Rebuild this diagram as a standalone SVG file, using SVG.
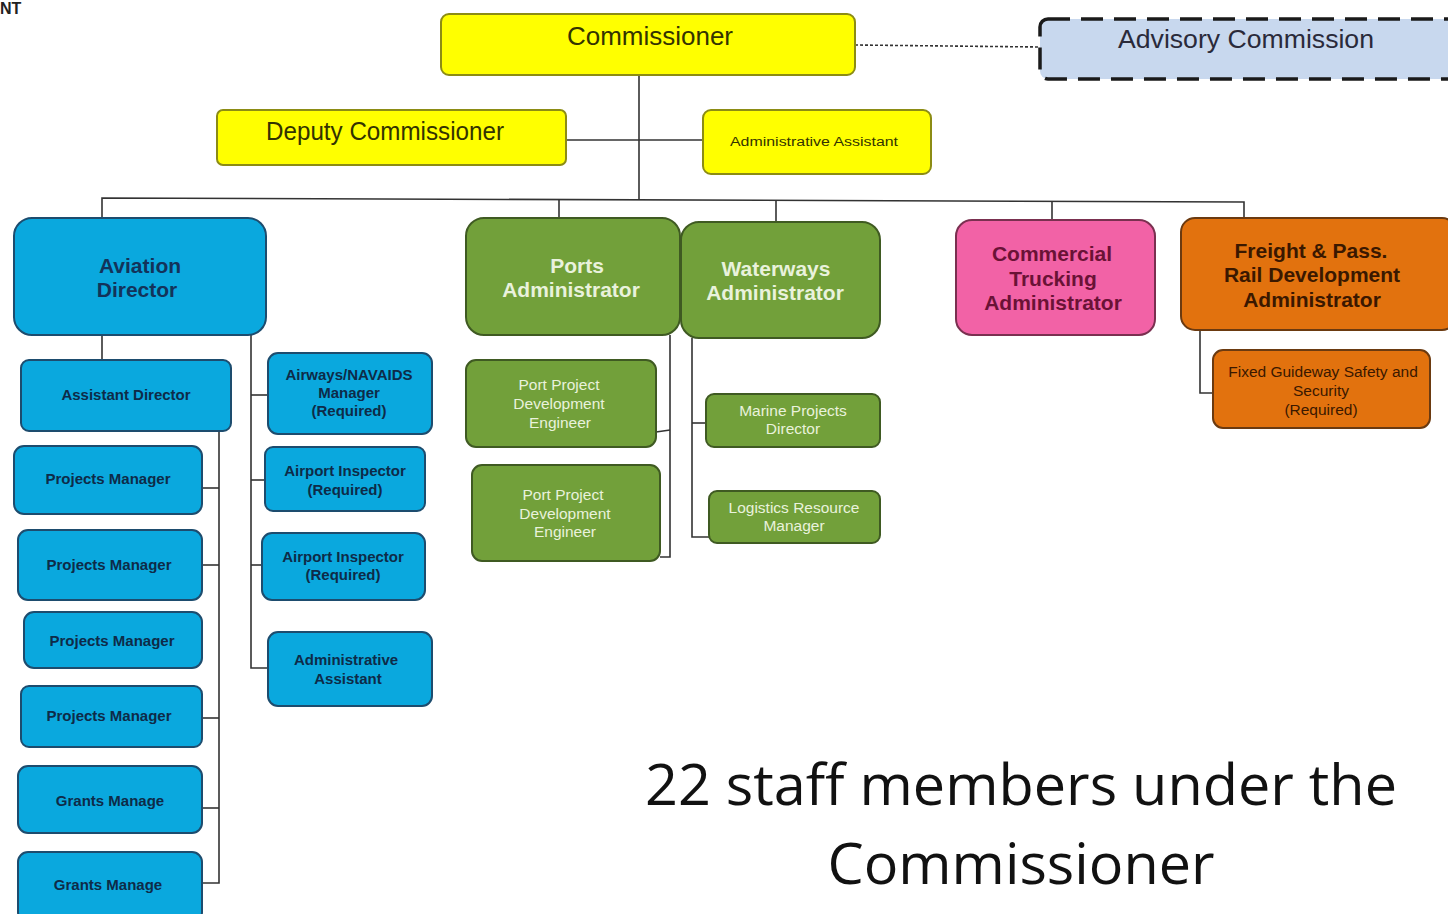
<svg xmlns="http://www.w3.org/2000/svg" width="1448" height="914" viewBox="0 0 1448 914">
<style>
.ye{fill:#ffff00;stroke:#8c8c14;stroke-width:2}
.bl{fill:#0aa8de;stroke:#1d4c6e;stroke-width:2}
.gr{fill:#72a03a;stroke:#3f5a22;stroke-width:2}
.pk{fill:#f262a6;stroke:#7a3050;stroke-width:2}
.or{fill:#e2720e;stroke:#6b3a10;stroke-width:2}
.adv{fill:#c8d8ee;stroke:#1a1a1a;stroke-width:3.5;stroke-dasharray:22 11}
text{font-family:"Liberation Sans",Arial,sans-serif;text-anchor:middle;dominant-baseline:central}
.ty{fill:#333300;font-size:25px}
.tsy{fill:#333300;font-size:12.5px}
.tb{fill:#13335a;font-size:21px;font-weight:bold}
.tsb{fill:#0e2b48;font-size:15px;font-weight:bold}
.tg{fill:#e9f2dc;font-size:21px;font-weight:bold}
.tsg{fill:#e9f2dc;font-size:15.5px}
.tp{fill:#6a1236;font-size:21px;font-weight:bold}
.to{fill:#3a1800;font-size:21px;font-weight:bold}
.tso{fill:#3a1800;font-size:15.5px}
.big{font-family:"Open Sans","Liberation Sans",sans-serif;fill:#111;font-size:56px}
.c{fill:none;stroke:#333;stroke-width:1.6}
</style>
<text x="0" y="8" style="text-anchor:start;font-size:16px;font-weight:bold;fill:#222">NT</text>
<g id="connectors">
<line class="c" x1="855" y1="45" x2="1040" y2="47" style="stroke-dasharray:3 2"/>
<polyline class="c" points="639,75 639,200"/>
<line class="c" x1="566" y1="140" x2="703" y2="140"/>
<polyline class="c" points="102,218 102,198 1244,202 1244,218"/>
<line class="c" x1="559" y1="199" x2="559" y2="218"/>
<line class="c" x1="776" y1="200" x2="776" y2="222"/>
<line class="c" x1="1052" y1="201" x2="1052" y2="220"/>
<line class="c" x1="102" y1="335" x2="102" y2="360"/>
<polyline class="c" points="251,335 251,668 268,668"/>
<line class="c" x1="251" y1="395" x2="268" y2="395"/>
<line class="c" x1="251" y1="480" x2="265" y2="480"/>
<line class="c" x1="251" y1="565" x2="262" y2="565"/>
<polyline class="c" points="219,431 219,883 202,883"/>
<line class="c" x1="202" y1="488" x2="219" y2="488"/>
<line class="c" x1="202" y1="565" x2="219" y2="565"/>
<line class="c" x1="202" y1="718" x2="219" y2="718"/>
<line class="c" x1="202" y1="808" x2="219" y2="808"/>
<polyline class="c" points="670,335 670,557 660,557"/>
<line class="c" x1="656" y1="432" x2="670" y2="430"/>
<polyline class="c" points="692,338 692,537 709,537"/>
<line class="c" x1="692" y1="423" x2="706" y2="423"/>
<polyline class="c" points="1200,330 1200,393 1213,393"/>
</g>
<g id="commissioner"><rect class="ye" x="441" y="14" width="414" height="61" rx="8"/><text class="ty" x="650" y="36" textLength="166" lengthAdjust="spacingAndGlyphs">Commissioner</text></g>
<g id="advisory"><rect class="adv" x="1040" y="19" width="420" height="60" rx="8"/><text class="ty" x="1246" y="39" style="fill:#2a2a3a" textLength="256" lengthAdjust="spacingAndGlyphs">Advisory  Commission</text></g>
<g id="deputy"><rect class="ye" x="217" y="110" width="349" height="55" rx="6"/><text class="ty" x="385" y="131" textLength="238" lengthAdjust="spacingAndGlyphs">Deputy Commissioner</text></g>
<g id="adminasst"><rect class="ye" x="703" y="110" width="228" height="64" rx="8"/><text class="tsy" x="814" y="142" textLength="168" lengthAdjust="spacingAndGlyphs">Administrative Assistant</text></g>
<g id="aviation"><rect class="bl" x="14" y="218" width="252" height="117" rx="18"/><text class="tb" x="140" y="265">Aviation</text><text class="tb" x="137" y="289">Director</text></g>
<g id="asstdir"><rect class="bl" x="21" y="360" width="210" height="71" rx="8"/><text class="tsb" x="126" y="394">Assistant Director</text></g>
<g id="pm1"><rect class="bl" x="14" y="446" width="188" height="68" rx="10"/><text class="tsb" x="108" y="478">Projects Manager</text></g>
<g id="pm2"><rect class="bl" x="18" y="530" width="184" height="70" rx="10"/><text class="tsb" x="109" y="564">Projects Manager</text></g>
<g id="pm3"><rect class="bl" x="24" y="612" width="178" height="56" rx="10"/><text class="tsb" x="112" y="640">Projects Manager</text></g>
<g id="pm4"><rect class="bl" x="21" y="686" width="181" height="61" rx="8"/><text class="tsb" x="109" y="715">Projects Manager</text></g>
<g id="gm1"><rect class="bl" x="18" y="766" width="184" height="67" rx="10"/><text class="tsb" x="110" y="800">Grants Manage</text></g>
<g id="gm2"><rect class="bl" x="18" y="852" width="184" height="70" rx="10"/><text class="tsb" x="108" y="884">Grants Manage</text></g>
<g id="airways"><rect class="bl" x="268" y="353" width="164" height="81" rx="10"/><text class="tsb" x="349" y="374">Airways/NAVAIDS</text><text class="tsb" x="349" y="392">Manager</text><text class="tsb" x="349" y="410">(Required)</text></g>
<g id="insp1"><rect class="bl" x="265" y="447" width="160" height="64" rx="8"/><text class="tsb" x="345" y="470">Airport Inspector</text><text class="tsb" x="345" y="489">(Required)</text></g>
<g id="insp2"><rect class="bl" x="262" y="533" width="163" height="67" rx="10"/><text class="tsb" x="343" y="556">Airport Inspector</text><text class="tsb" x="343" y="574">(Required)</text></g>
<g id="aviadmin"><rect class="bl" x="268" y="632" width="164" height="74" rx="10"/><text class="tsb" x="346" y="659">Administrative</text><text class="tsb" x="348" y="678">Assistant</text></g>
<g id="ports"><rect class="gr" x="466" y="218" width="214" height="117" rx="18"/><text class="tg" x="577" y="265">Ports</text><text class="tg" x="571" y="289">Administrator</text></g>
<g id="waterways"><rect class="gr" x="681" y="222" width="199" height="116" rx="18"/><text class="tg" x="776" y="268">Waterways</text><text class="tg" x="775" y="292">Administrator</text></g>
<g id="ppde1"><rect class="gr" x="466" y="360" width="190" height="87" rx="10"/><text class="tsg" x="559" y="384">Port Project</text><text class="tsg" x="559" y="403">Development</text><text class="tsg" x="560" y="422">Engineer</text></g>
<g id="ppde2"><rect class="gr" x="472" y="465" width="188" height="96" rx="10"/><text class="tsg" x="563" y="494">Port Project</text><text class="tsg" x="565" y="513">Development</text><text class="tsg" x="565" y="531">Engineer</text></g>
<g id="marine"><rect class="gr" x="706" y="394" width="174" height="53" rx="8"/><text class="tsg" x="793" y="410">Marine Projects</text><text class="tsg" x="793" y="428">Director</text></g>
<g id="logistics"><rect class="gr" x="709" y="491" width="171" height="52" rx="8"/><text class="tsg" x="794" y="507">Logistics Resource</text><text class="tsg" x="794" y="525">Manager</text></g>
<g id="trucking"><rect class="pk" x="956" y="220" width="199" height="115" rx="16"/><text class="tp" x="1052" y="253">Commercial</text><text class="tp" x="1053" y="278">Trucking</text><text class="tp" x="1053" y="302">Administrator</text></g>
<g id="rail"><rect class="or" x="1181" y="218" width="275" height="112" rx="14"/><text class="to" x="1311" y="250">Freight &amp; Pass.</text><text class="to" x="1312" y="274">Rail Development</text><text class="to" x="1312" y="299">Administrator</text></g>
<g id="guideway"><rect class="or" x="1213" y="350" width="217" height="78" rx="10"/><text class="tso" x="1323" y="371">Fixed Guideway Safety and</text><text class="tso" x="1321" y="390">Security</text><text class="tso" x="1321" y="409">(Required)</text></g>
<g id="caption"><text class="big" x="1021" y="783" textLength="752" lengthAdjust="spacingAndGlyphs">22 staff members under the</text><text class="big" x="1021" y="862" textLength="387" lengthAdjust="spacingAndGlyphs">Commissioner</text></g>
</svg>
